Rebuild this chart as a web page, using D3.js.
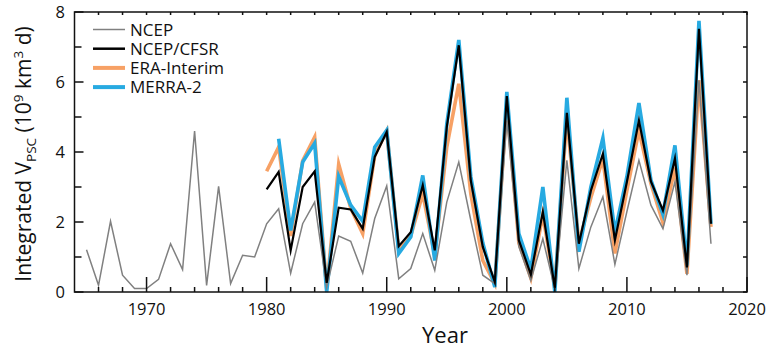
<!DOCTYPE html>
<html>
<head>
<meta charset="utf-8">
<script src="https://cdn.jsdelivr.net/npm/d3@7"></script>
<style>
  body { margin: 0; background: #fff; }
  svg text { font-family: "Open Sans", sans-serif; fill: #111; }
</style>
</head>
<body>
<svg id="chart" width="768" height="351"></svg>
<script>
// Integrated PSC volume per winter, in 10^9 km^3 d
const ncepYears = [1965,1966,1967,1968,1969,1970,1971,1972,1973,1974,1975,1976,1977,1978,1979,
  1980,1981,1982,1983,1984,1985,1986,1987,1988,1989,1990,1991,1992,1993,1994,1995,1996,1997,1998,1999,
  2000,2001,2002,2003,2004,2005,2006,2007,2008,2009,2010,2011,2012,2013,2014,2015,2016,2017];
const ncep = [1.21,0.19,2.02,0.48,0.10,0.10,0.36,1.38,0.64,4.60,0.19,3.02,0.24,1.05,1.00,
  1.95,2.38,0.54,1.95,2.57,0.14,1.60,1.45,0.54,2.10,3.03,0.38,0.67,1.67,0.62,2.57,3.71,2.05,0.48,0.24,
  4.90,1.30,0.33,1.52,0.08,3.76,0.67,1.86,2.72,0.79,2.30,3.76,2.48,1.81,3.15,0.48,6.05,1.38];

const reanYears = [1980,1981,1982,1983,1984,1985,1986,1987,1988,1989,1990,1991,1992,1993,1994,1995,1996,1997,1998,1999,
  2000,2001,2002,2003,2004,2005,2006,2007,2008,2009,2010,2011,2012,2013,2014,2015,2016,2017];
const cfsr = [2.93,3.43,1.19,3.00,3.45,0.26,2.41,2.36,1.81,3.86,4.57,1.31,1.71,3.05,1.19,4.71,7.05,3.19,1.29,0.29,
  5.60,1.48,0.50,2.29,0.12,5.12,1.38,2.90,3.95,1.48,3.15,4.90,3.16,2.33,3.81,0.70,7.52,1.95];
const era = [3.45,4.14,1.60,3.75,4.43,0.10,3.65,2.40,1.67,3.90,4.60,1.20,1.60,2.81,1.05,4.14,5.95,2.81,0.90,0.24,
  5.40,1.40,0.40,2.20,0.15,5.00,1.40,2.70,3.81,1.10,2.90,4.62,3.10,1.98,3.55,0.52,6.05,1.86];

const merraYears = [1981,1982,1983,1984,1985,1986,1987,1988,1989,1990,1991,1992,1993,1994,1995,1996,1997,1998,1999,
  2000,2001,2002,2003,2004,2005,2006,2007,2008,2009,2010,2011,2012,2013,2014,2015,2016,2017];
const merra = [4.38,1.76,3.71,4.25,0.00,3.30,2.48,2.02,4.14,4.62,1.10,1.57,3.33,0.90,4.80,7.20,3.30,1.40,0.14,
  5.72,1.67,0.65,3.00,0.00,5.55,1.15,3.00,4.40,1.70,3.30,5.40,3.20,2.22,4.19,0.76,7.75,1.95];

const seriesNames = ["NCEP", "NCEP/CFSR", "ERA-Interim", "MERRA-2"];
const seriesColors = ["#808080", "#000000", "#F7A165", "#27AAE1"];
const xMajorTicks = [1970, 1980, 1990, 2000, 2010, 2020];
const xMinorTicks = [1966, 1968, 1972, 1974, 1976, 1978, 1982, 1984, 1986, 1988, 1992, 1994, 1996, 1998,
  2002, 2004, 2006, 2008, 2012, 2014, 2016, 2018];
const yMajorTicks = [0, 2, 4, 6, 8];
const yMinorTicks = [1, 3, 5, 7];

const svg = d3.select("#chart");
const L = 74.5, R = 747, T = 12, B = 292;

const x = d3.scaleLinear().domain([1964, 2020]).range([L, R]);
const y = d3.scaleLinear().domain([0, 8]).range([B, T]);

// Data lines (drawn back to front)
const series = [
  { color: seriesColors[2], width: 3.6, years: reanYears, vals: era },
  { color: seriesColors[3], width: 3.6, years: merraYears, vals: merra },
  { color: seriesColors[0], width: 1.5, years: ncepYears, vals: ncep },
  { color: seriesColors[1], width: 2.2, years: reanYears, vals: cfsr }
];

const line = d3.line().x(d => x(d[0])).y(d => y(d[1]));

series.forEach(s => {
  svg.append("path")
    .datum(s.years.map((yr, i) => [yr, s.vals[i]]))
    .attr("fill", "none")
    .attr("stroke", s.color)
    .attr("stroke-width", s.width)
    .attr("stroke-linejoin", "miter")
    .attr("stroke-miterlimit", 6)
    .attr("d", line);
});

// Frame
svg.append("rect")
  .attr("x", L).attr("y", T).attr("width", R - L).attr("height", B - T)
  .attr("fill", "none").attr("stroke", "#111").attr("stroke-width", 1.5);

// Ticks pointing into the plot box, built as one path
const tp = d3.path();
function tickX(vals, len, yBase, dir) {
  vals.forEach(v => { tp.moveTo(x(v), yBase); tp.lineTo(x(v), yBase + dir * len); });
}
function tickY(vals, len, xBase, dir) {
  vals.forEach(v => { tp.moveTo(xBase, y(v)); tp.lineTo(xBase + dir * len, y(v)); });
}
tickX(xMajorTicks, 15, B, -1);
tickX(xMinorTicks, 5, B, -1);
tickX(xMajorTicks.concat(xMinorTicks), 3, T, 1);
tickY(yMajorTicks, 9, L, 1);
tickY(yMinorTicks, 7, L, 1);
tickY(yMajorTicks.concat(yMinorTicks), 4, R, -1);
svg.append("path")
  .attr("d", tp.toString())
  .attr("fill", "none")
  .attr("stroke", "#111")
  .attr("stroke-width", 1.5);

// Tick labels
svg.append("g").selectAll("text").data(xMajorTicks).enter().append("text")
  .attr("x", d => x(d)).attr("y", 315)
  .attr("text-anchor", "middle")
  .style("font-size", "16.5px")
  .text(d => d);
svg.append("g").selectAll("text").data(yMajorTicks).enter().append("text")
  .attr("x", 65).attr("y", d => y(d)).attr("dy", "0.36em")
  .attr("text-anchor", "end")
  .style("font-size", "16.5px")
  .text(d => d);

// Axis titles
svg.append("text")
  .attr("x", 445).attr("y", 343)
  .attr("text-anchor", "middle")
  .style("font-size", "22px")
  .text("Year");

const yt = svg.append("text")
  .attr("transform", "translate(31,154) rotate(-90)")
  .attr("text-anchor", "middle")
  .style("font-size", "21px");
yt.append("tspan").text("Integrated V");
yt.append("tspan").attr("dy", 5).style("font-size", "13.5px").text("PSC");
yt.append("tspan").attr("dy", -5).text(" (10");
yt.append("tspan").attr("dy", -8).style("font-size", "13.5px").text("9");
yt.append("tspan").attr("dy", 8).text(" km");
yt.append("tspan").attr("dy", -8).style("font-size", "13.5px").text("3");
yt.append("tspan").attr("dy", 8).text(" d)");

// Legend
const legendWidths = [1.5, 2.5, 4, 4];
const lg = svg.append("g");
seriesNames.forEach((name, i) => {
  const cy = 29.5 + i * 19.2;
  lg.append("line")
    .attr("x1", 93).attr("x2", 125).attr("y1", cy).attr("y2", cy)
    .attr("stroke", seriesColors[i]).attr("stroke-width", legendWidths[i]);
  lg.append("text")
    .attr("x", 130).attr("y", cy).attr("dy", "0.36em")
    .style("font-size", "17px")
    .text(name);
});
</script>
</body>
</html>
